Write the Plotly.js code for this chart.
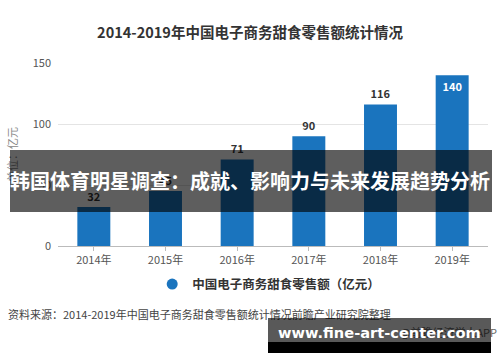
<!DOCTYPE html>
<html>
<head>
<meta charset="utf-8">
<script src="https://cdn.plot.ly/plotly-3.0.1.min.js"></script>
<style>
html,body{margin:0;padding:0;background:#fff;}
#wrap{position:relative;width:500px;height:362px;overflow:hidden;}
#chart{position:absolute;left:0;top:0;width:500px;height:362px;}
.banner{position:absolute;left:10px;top:150px;width:482px;height:62px;background:rgba(0,0,0,0.63);
  color:#fff;font-family:"Noto Sans CJK SC",sans-serif;font-weight:bold;font-size:20px;line-height:62px;white-space:nowrap;text-indent:0px;}
.wm{position:absolute;left:268px;top:318px;width:223px;height:24px;background:rgba(0,0,0,0.65);}
.wm2{position:absolute;left:268px;top:342px;width:223px;height:11px;background:#000;}
.wmt{position:absolute;left:278px;top:318px;color:#fff;font-family:"DejaVu Sans",sans-serif;font-weight:bold;font-size:14.6px;line-height:30px;white-space:nowrap;}
</style>
</head>
<body>
<div id="wrap">
<div id="chart"></div>
<div class="banner">韩国体育明星调查：成就、影响力与未来发展趋势分析</div>
<div class="wm"></div>
<div class="wm2"></div>
<div class="wmt">www.fine-art-center.com</div>
</div>
<script>
const years = ['2014年','2015年','2016年','2017年','2018年','2019年'];
const sales = [32, 45, 71, 90, 116, 140];
const seriesName = '中国电子商务甜食零售额（亿元）';
const yTicks = [0, 50, 100, 150];

const font = '"Noto Sans CJK SC", "Microsoft YaHei", sans-serif';
const barColor = '#1a74be';
const bars = {
  type: 'bar', x: years, y: sales, name: seriesName,
  marker: {color: barColor},
  text: sales.map(String),
  textposition: sales.map((v,i)=> i===sales.length-1 ? 'inside' : 'outside'),
  insidetextanchor: 'end',
  textfont: {family: font, size: 11, color: '#333', weight: 'bold'},
  insidetextfont: {family: font, size: 11, color: '#fff', weight: 'bold'},
  outsidetextfont: {family: font, size: 11, color: '#333', weight: 'bold'},
  cliponaxis: false,
  showlegend: false
};
// legend-only circle marker: same series on a hidden axis whose range keeps the points out of view
const legendTrace = {
  type: 'scatter', mode: 'markers', x: years, y: sales, name: seriesName, yaxis: 'y2',
  marker: {color: barColor, size: 11, symbol: 'circle'}, cliponaxis: true, showlegend: true, hoverinfo: 'skip'
};
const layout = {
  width: 500, height: 362,
  margin: {l: 58, r: 12, t: 63, b: 116},
  paper_bgcolor: '#fff', plot_bgcolor: '#fff',
  bargap: 0.54,
  font: {family: font, color: '#555'},
  title: {text: '2014-2019年中国电子商务甜食零售额统计情况', font: {family: font, size: 14.5, color: '#333', weight: 'bold'}, x: 0.5, xanchor: 'center', y: 0.91, yanchor: 'middle'},
  xaxis: {showgrid: false, showline: true, linecolor: '#bbb', linewidth: 1, ticks: 'outside', tickcolor: '#bbb', ticklen: 4,
          tickfont: {family: font, size: 11, color: '#555'}},
  yaxis: {range: [0, 150], tickvals: yTicks, ticktext: yTicks.map(String), showgrid: true, gridcolor: '#e4e4e4', zeroline: false,
          tickfont: {family: font, size: 11, color: '#555'}, ticklabelstandoff: 6,
          title: {text: '单位：亿元', font: {family: font, size: 11, color: '#888'}, standoff: 12}},
  yaxis2: {overlaying: 'y', range: [1000, 1001], visible: false, showgrid: false, zeroline: false},
  legend: {orientation: 'h', x: 0.49, xanchor: 'center', y: -0.21, yanchor: 'middle', itemwidth: 30, font: {family: font, size: 12.5, color: '#333', weight: 'bold'}},
  annotations: [
    {xref: 'paper', yref: 'paper', x: -0.12, y: -0.37, xanchor: 'left', yanchor: 'middle', showarrow: false,
     text: '资料来源：2014-2019年中国电子商务甜食零售额统计情况前瞻产业研究院整理', font: {family: font, size: 11, color: '#444'}},
    {xref: 'paper', yref: 'paper', x: 1.025, y: -0.47, xanchor: 'right', yanchor: 'middle', showarrow: false,
     text: '@前瞻经济学人APP', font: {family: font, size: 11, color: '#666'}}
  ]
};
Plotly.newPlot('chart', [bars, legendTrace], layout, {displayModeBar: false, staticPlot: true});
</script>
</body>
</html>
